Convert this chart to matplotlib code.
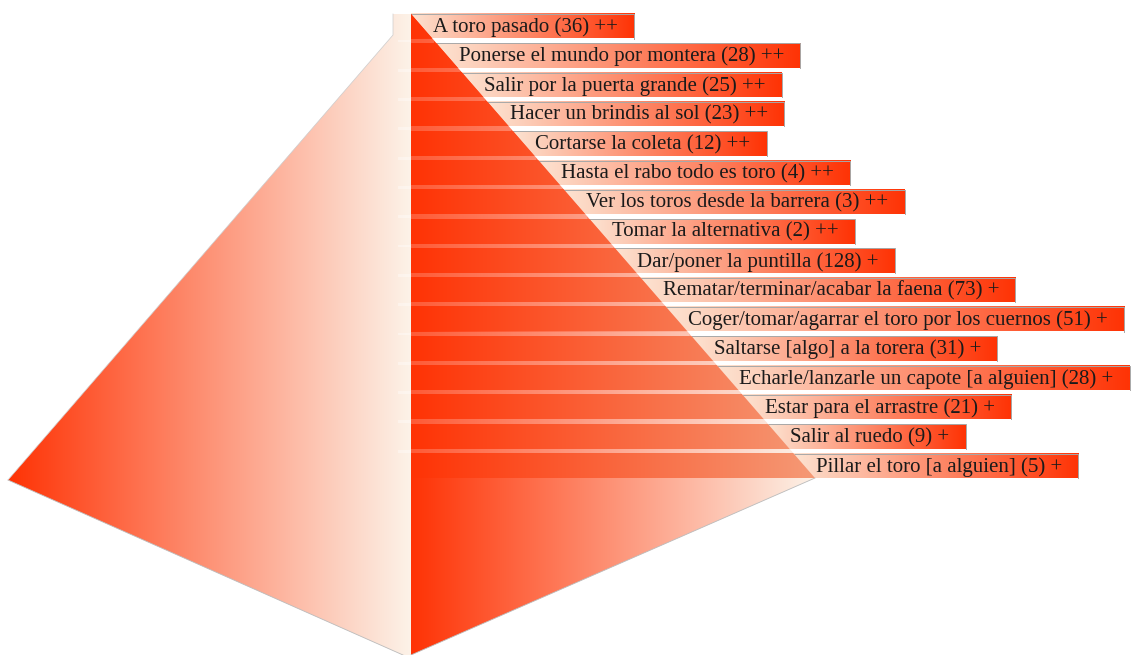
import matplotlib.pyplot as plt
import numpy as np
from matplotlib.patches import Polygon

# idioms and counts, top to bottom
labels = [
    "A toro pasado", "Ponerse el mundo por montera", "Salir por la puerta grande",
    "Hacer un brindis al sol", "Cortarse la coleta", "Hasta el rabo todo es toro",
    "Ver los toros desde la barrera", "Tomar la alternativa", "Dar/poner la puntilla",
    "Rematar/terminar/acabar la faena", "Coger/tomar/agarrar el toro por los cuernos",
    "Saltarse [algo] a la torera", "Echarle/lanzarle un capote [a alguien]",
    "Estar para el arrastre", "Salir al ruedo", "Pillar el toro [a alguien]",
]
counts = [36, 28, 25, 23, 12, 4, 3, 2, 128, 73, 51, 31, 28, 21, 9, 5]
marks = ["++"] * 8 + ["+"] * 8

W, H = 1134, 655
red = np.array([1.0, 0.20, 0.02])
cream = np.array([0.99, 0.95, 0.91])
band_end = np.array([0.96, 0.60, 0.46])
box_start = np.array([0.99, 0.89, 0.82])

# pyramid geometry (pixel space)
x_mid, top, tip_x, tip_y, bottom = 411, 14, 815, 478, 655
row_h, pitch = 24.5, (tip_y - top - 24.5) / 15


def diag(y):
    return x_mid + (y - top) * (tip_x - x_mid) / (tip_y - top)


def gradient(ax, x0, x1, y0, y1, c0, c1, clip=None, z=1):
    t = np.linspace(0, 1, 256)[None, :, None]
    img = c0 * (1 - t) + c1 * t
    im = ax.imshow(img, extent=(x0, x1, y1, y0), aspect="auto",
                   interpolation="bilinear", zorder=z)
    if clip is not None:
        im.set_clip_path(clip)
    return im


fig = plt.figure(figsize=(W / 100, H / 100), dpi=100)
ax = fig.add_axes([0, 0, 1, 1])
ax.set_xlim(0, W)
ax.set_ylim(H, 0)
ax.axis("off")

# left face
left_pts = [(393, top), (x_mid, top), (x_mid, bottom), (403, bottom), (8, 480), (393, 35)]
left_poly = Polygon(left_pts, closed=True, transform=ax.transData)
gradient(ax, 8, x_mid, top, bottom, red, cream, clip=left_poly, z=1)
ax.plot([8, 403], [480, bottom], color="#bbbbbb", lw=0.6, zorder=2)
ax.plot([393, 393, 8], [top, 35, 480], color="#cccccc", lw=0.5, zorder=2)

# right face
face_pts = [(x_mid, top), (tip_x, tip_y), (x_mid, bottom)]
face_poly = Polygon(face_pts, closed=True, transform=ax.transData)
gradient(ax, x_mid, tip_x, top, bottom, red, cream, clip=face_poly, z=3)
ax.plot([tip_x, x_mid], [tip_y, bottom], color="#bbbbbb", lw=0.6, zorder=3)

fs = 15
fig.canvas.draw()
renderer = fig.canvas.get_renderer()
inv = ax.transData.inverted()

for i, (lab, n, m) in enumerate(zip(labels, counts, marks)):
    y0 = top + i * pitch
    y1 = y0 + row_h
    # band on the face
    band_poly = Polygon(face_pts, closed=True, transform=ax.transData)
    gradient(ax, x_mid, tip_x, y0, y1, red, band_end, clip=band_poly, z=4)
    # pale gap under band
    if i < len(labels) - 1:
        ax.fill_between([x_mid, diag(y1 + 2)], y1, y0 + pitch, color="white",
                        alpha=0.2, lw=0, zorder=4).set_clip_path(band_poly)
        ax.fill_between([398, x_mid], y1 + 1, y0 + pitch - 1, color="white",
                        alpha=0.35, lw=0, zorder=2)
    # label text
    tx = diag(y1) + 1
    t = ax.text(tx, (y0 + y1) / 2 + 1, f"{lab} ({n}) {m}", fontsize=fs,
                family="Liberation Serif", color="#1a1a1a", va="center",
                ha="left", zorder=6)
    bb = t.get_window_extent(renderer)
    x_end = inv.transform((bb.x1, 0))[0] + 16
    xs = diag(y0)
    gradient(ax, xs, x_end, y0, y1, box_start, red, z=2)
    ax.plot([xs, x_end, x_end], [y0, y0, y1], color="#a8a8a8", lw=0.7, zorder=2)

fig.savefig("out.png", dpi=100)
